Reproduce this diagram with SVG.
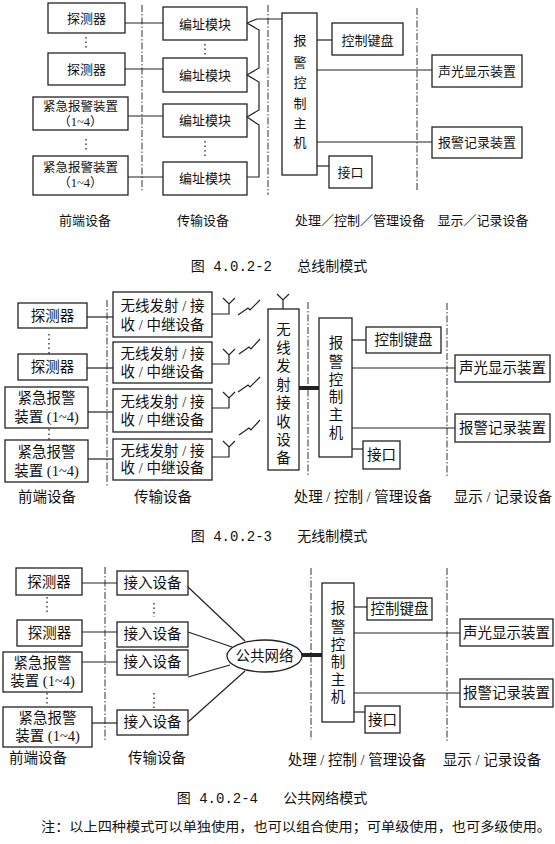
<svg xmlns="http://www.w3.org/2000/svg" width="555" height="844" viewBox="0 0 555 844">
<style>
.b{fill:#fff;stroke:#222;stroke-width:1.3}
.l{fill:none;stroke:#222;stroke-width:1.2}
.th{fill:none;stroke:#222;stroke-width:4}
.dd{fill:none;stroke:#333;stroke-width:1;stroke-dasharray:7,2,1.5,2}
.dots{fill:none;stroke:#222;stroke-width:1.3;stroke-dasharray:1.5,3}
text{font-family:"Liberation Serif","Noto Sans CJK SC",serif;fill:#111;text-anchor:middle;dominant-baseline:central}
.t1{font-size:13px}
.t1s{font-size:12.5px}
.t2{font-size:14.5px}
.lb1{font-size:13px}
.lb2{font-size:14.5px}
.cap{font-size:14px;font-family:"Liberation Mono","Noto Sans CJK SC",monospace}
.note{font-size:13px}
</style>
<rect width="555" height="844" fill="#fff"/>

<!-- ========== Figure 4.0.2-2 ========== -->
<g id="f1-lanes">
<line class="dd" x1="142" y1="5" x2="142" y2="192"/>
<line class="dd" x1="268" y1="5" x2="268" y2="195"/>
<line class="dd" x1="417" y1="8" x2="417" y2="192"/>
<line class="dots" x1="86" y1="37" x2="86" y2="50"/>
<line class="dots" x1="205" y1="44" x2="205" y2="55"/>
<line class="dots" x1="86" y1="139" x2="86" y2="152"/>
<line class="dots" x1="205" y1="141" x2="205" y2="156"/>
</g>
<g id="f1-connectors">
<line class="l" x1="125" y1="23" x2="163" y2="23"/>
<line class="l" x1="125" y1="69" x2="163" y2="69"/>
<line class="l" x1="128" y1="116" x2="163" y2="116"/>
<line class="l" x1="128" y1="177" x2="163" y2="177"/>
<polyline class="l" points="282,19 257,19 247,23 259,30 259,68 247,75 259,82 259,110 247,117 259,125 259,177 247,177"/>
<line class="l" x1="317" y1="40" x2="332" y2="40"/>
<line class="l" x1="317" y1="70" x2="432" y2="70"/>
<line class="l" x1="317" y1="142" x2="432" y2="142"/>
<line class="l" x1="317" y1="166" x2="329" y2="166"/>
</g>
<g id="f1-det1"><rect class="b" x="48" y="3" width="77" height="30"/><text class="t1" x="86.5" y="18">探测器</text></g>
<g id="f1-det2"><rect class="b" x="48" y="53" width="77" height="32"/><text class="t1" x="86.5" y="69">探测器</text></g>
<g id="f1-em1"><rect class="b" x="33" y="97" width="95" height="33"/><text class="t1s" x="80.5" y="106.5">紧急报警装置</text><text class="t1s" x="80.5" y="121.5">（1~4）</text></g>
<g id="f1-em2"><rect class="b" x="33" y="156" width="95" height="39"/><text class="t1s" x="80.5" y="168">紧急报警装置</text><text class="t1s" x="80.5" y="183">（1~4）</text></g>
<g id="f1-addr1"><rect class="b" x="163" y="7" width="84" height="33"/><text class="t1" x="205" y="24">编址模块</text></g>
<g id="f1-addr2"><rect class="b" x="163" y="58" width="84" height="34"/><text class="t1" x="205" y="75">编址模块</text></g>
<g id="f1-addr3"><rect class="b" x="163" y="104" width="84" height="33"/><text class="t1" x="205" y="120">编址模块</text></g>
<g id="f1-addr4"><rect class="b" x="163" y="162" width="84" height="33"/><text class="t1" x="205" y="178">编址模块</text></g>
<g id="f1-host"><rect class="b" x="282" y="13" width="35" height="162"/>
<text class="t1" x="300" y="40">报</text><text class="t1" x="300" y="62">警</text><text class="t1" x="300" y="82">控</text><text class="t1" x="300" y="103">制</text><text class="t1" x="300" y="123">主</text><text class="t1" x="300" y="142">机</text></g>
<g id="f1-kbd"><rect class="b" x="332" y="23" width="71" height="32"/><text class="t1" x="367.5" y="40">控制键盘</text></g>
<g id="f1-disp"><rect class="b" x="432" y="55" width="90" height="32"/><text class="t1" x="477" y="71">声光显示装置</text></g>
<g id="f1-rec"><rect class="b" x="432" y="127" width="90" height="31"/><text class="t1" x="477" y="142">报警记录装置</text></g>
<g id="f1-if"><rect class="b" x="329" y="156" width="43" height="32"/><text class="t1" x="350.5" y="172">接口</text></g>
<g id="f1-labels">
<text class="lb1" x="85" y="220">前端设备</text>
<text class="lb1" x="203" y="220">传输设备</text>
<text class="lb1" x="360" y="220">处理／控制／管理设备</text>
<text class="lb1" x="483" y="220">显示／记录设备</text>
<text class="cap" x="279" y="267" xml:space="preserve">图 4.0.2-2   总线制模式</text>
</g>

<!-- ========== Figure 4.0.2-3 ========== -->
<g id="f2-lanes">
<line class="dd" x1="107" y1="300" x2="107" y2="487"/>
<line class="dd" x1="308" y1="302" x2="308" y2="477"/>
<line class="dd" x1="447" y1="303" x2="447" y2="478"/>
<line class="dots" x1="49" y1="334" x2="49" y2="355"/>
<line class="dots" x1="49" y1="429" x2="49" y2="441"/>
</g>
<g id="f2-connectors">
<line class="l" x1="87" y1="317" x2="113" y2="317"/>
<line class="l" x1="87" y1="368" x2="113" y2="368"/>
<line class="l" x1="88" y1="412" x2="113" y2="412"/>
<line class="l" x1="88" y1="459" x2="113" y2="459"/>
<path class="l" d="M212,314 H229 V304 M223,298 L229,304 L235,298"/>
<path class="l" d="M212,364 H229 V355 M223,349 L229,355 L235,349"/>
<path class="l" d="M212,408 H229 V398 M223,392 L229,398 L235,392"/>
<path class="l" d="M212,457 H229 V447 M223,441 L229,447 L235,441"/>
<path class="l" d="M238,315 L248,308 L250,310 L260,300"/>
<path class="l" d="M239,354 L249,347 L251,349 L260,339"/>
<path class="l" d="M238,392 L248,385 L250,387 L260,377"/>
<path class="l" d="M239,435 L249,428 L251,430 L260,420"/>
<path class="l" d="M283,309 V300 M277,294 L283,300 L289,294"/>
<line class="th" x1="299" y1="388" x2="319" y2="388"/>
<line class="l" x1="352" y1="340" x2="366" y2="340"/>
<line class="l" x1="352" y1="368" x2="455" y2="368"/>
<line class="l" x1="352" y1="428" x2="455" y2="428"/>
<line class="l" x1="352" y1="449" x2="363" y2="449"/>
</g>
<g id="f2-det1"><rect class="b" x="18" y="303" width="69" height="25"/><text class="t2" x="52.5" y="316">探测器</text></g>
<g id="f2-det2"><rect class="b" x="18" y="354" width="69" height="26"/><text class="t2" x="52.5" y="367">探测器</text></g>
<g id="f2-em1"><rect class="b" x="5" y="387" width="83" height="41"/><text class="t2" x="46.5" y="398">紧急报警</text><text class="t2" x="46.5" y="417">装置 (1~4)</text></g>
<g id="f2-em2"><rect class="b" x="5" y="440" width="83" height="42"/><text class="t2" x="46.5" y="452">紧急报警</text><text class="t2" x="46.5" y="471">装置 (1~4)</text></g>
<g id="f2-tx1"><rect class="b" x="113" y="292" width="99" height="45"/><text class="t2" x="162.5" y="306">无线发射 / 接</text><text class="t2" x="162.5" y="325">收 / 中继设备</text></g>
<g id="f2-tx2"><rect class="b" x="113" y="342" width="99" height="41"/><text class="t2" x="162.5" y="354">无线发射 / 接</text><text class="t2" x="162.5" y="372">收 / 中继设备</text></g>
<g id="f2-tx3"><rect class="b" x="113" y="389" width="99" height="43"/><text class="t2" x="162.5" y="402">无线发射 / 接</text><text class="t2" x="162.5" y="420">收 / 中继设备</text></g>
<g id="f2-tx4"><rect class="b" x="113" y="439" width="99" height="41"/><text class="t2" x="162.5" y="451">无线发射 / 接</text><text class="t2" x="162.5" y="468">收 / 中继设备</text></g>
<g id="f2-rx"><rect class="b" x="268" y="309" width="31" height="161"/>
<text class="t2" x="283.5" y="330">无</text><text class="t2" x="283.5" y="348">线</text><text class="t2" x="283.5" y="366">发</text><text class="t2" x="283.5" y="385">射</text><text class="t2" x="283.5" y="403">接</text><text class="t2" x="283.5" y="422">收</text><text class="t2" x="283.5" y="440">设</text><text class="t2" x="283.5" y="458">备</text></g>
<g id="f2-host"><rect class="b" x="319" y="318" width="33" height="139"/>
<text class="t2" x="336" y="343">报</text><text class="t2" x="336" y="362">警</text><text class="t2" x="336" y="380">控</text><text class="t2" x="336" y="397">制</text><text class="t2" x="336" y="415">主</text><text class="t2" x="336" y="433">机</text></g>
<g id="f2-kbd"><rect class="b" x="366" y="327" width="75" height="26"/><text class="t2" x="403.5" y="340">控制键盘</text></g>
<g id="f2-disp"><rect class="b" x="455" y="355" width="95" height="27"/><text class="t2" x="502.5" y="368">声光显示装置</text></g>
<g id="f2-rec"><rect class="b" x="455" y="414" width="95" height="28"/><text class="t2" x="502.5" y="428">报警记录装置</text></g>
<g id="f2-if"><rect class="b" x="363" y="441" width="37" height="28"/><text class="t2" x="381.5" y="455">接口</text></g>
<g id="f2-labels">
<text class="lb2" x="47" y="497">前端设备</text>
<text class="lb2" x="163" y="497">传输设备</text>
<text class="lb2" x="363" y="497">处理 / 控制 / 管理设备</text>
<text class="lb2" x="503" y="497">显示 / 记录设备</text>
<text class="cap" x="279" y="537" xml:space="preserve">图 4.0.2-3   无线制模式</text>
</g>

<!-- ========== Figure 4.0.2-4 ========== -->
<g id="f3-lanes">
<line class="dd" x1="105" y1="567" x2="105" y2="740"/>
<line class="dd" x1="311" y1="568" x2="311" y2="740"/>
<line class="dd" x1="447" y1="568" x2="447" y2="742"/>
<line class="dots" x1="47" y1="597" x2="47" y2="613"/>
<line class="dots" x1="47" y1="693" x2="47" y2="706"/>
<line class="dots" x1="154" y1="603" x2="154" y2="617"/>
<line class="dots" x1="154" y1="693" x2="154" y2="708"/>
</g>
<g id="f3-connectors">
<line class="l" x1="82" y1="583" x2="117" y2="583"/>
<line class="l" x1="82" y1="632" x2="117" y2="632"/>
<line class="l" x1="82" y1="662" x2="117" y2="662"/>
<line class="l" x1="92" y1="723" x2="117" y2="723"/>
<line class="l" x1="188" y1="587" x2="245" y2="641"/>
<line class="l" x1="188" y1="632" x2="232" y2="647"/>
<line class="l" x1="188" y1="677" x2="230" y2="665"/>
<line class="l" x1="188" y1="722" x2="245" y2="671"/>
<line class="th" x1="301" y1="655" x2="322" y2="655"/>
<line class="l" x1="354" y1="607" x2="367" y2="607"/>
<line class="l" x1="354" y1="633" x2="460" y2="633"/>
<line class="l" x1="354" y1="693" x2="460" y2="693"/>
<line class="l" x1="354" y1="712" x2="365" y2="712"/>
</g>
<g id="f3-det1"><rect class="b" x="16" y="568" width="66" height="27"/><text class="t2" x="49" y="582">探测器</text></g>
<g id="f3-det2"><rect class="b" x="17" y="620" width="65" height="26"/><text class="t2" x="49.5" y="633">探测器</text></g>
<g id="f3-em1"><rect class="b" x="3" y="652" width="79" height="40"/><text class="t2" x="42.5" y="663">紧急报警</text><text class="t2" x="42.5" y="681">装置 (1~4)</text></g>
<g id="f3-em2"><rect class="b" x="3" y="707" width="89" height="40"/><text class="t2" x="47.5" y="718">紧急报警</text><text class="t2" x="47.5" y="736">装置 (1~4)</text></g>
<g id="f3-acc1"><rect class="b" x="117" y="571" width="71" height="24"/><text class="t2" x="152.5" y="583">接入设备</text></g>
<g id="f3-acc2"><rect class="b" x="117" y="622" width="71" height="25"/><text class="t2" x="152.5" y="634">接入设备</text></g>
<g id="f3-acc3"><rect class="b" x="117" y="650" width="71" height="25"/><text class="t2" x="152.5" y="662">接入设备</text></g>
<g id="f3-acc4"><rect class="b" x="117" y="710" width="71" height="25"/><text class="t2" x="152.5" y="722">接入设备</text></g>
<g id="f3-net"><ellipse class="b" cx="264.5" cy="656" rx="37.5" ry="16"/><text class="t2" x="264.5" y="656">公共网络</text></g>
<g id="f3-host"><rect class="b" x="322" y="583" width="32" height="139"/>
<text class="t2" x="338" y="608">报</text><text class="t2" x="338" y="627">警</text><text class="t2" x="338" y="645">控</text><text class="t2" x="338" y="662">制</text><text class="t2" x="338" y="680">主</text><text class="t2" x="338" y="697">机</text></g>
<g id="f3-kbd"><rect class="b" x="367" y="598" width="65" height="22"/><text class="t2" x="399.5" y="609">控制键盘</text></g>
<g id="f3-disp"><rect class="b" x="460" y="619" width="93" height="27"/><text class="t2" x="506.5" y="633">声光显示装置</text></g>
<g id="f3-rec"><rect class="b" x="460" y="679" width="93" height="28"/><text class="t2" x="506.5" y="693">报警记录装置</text></g>
<g id="f3-if"><rect class="b" x="365" y="706" width="35" height="27"/><text class="t2" x="382.5" y="720">接口</text></g>
<g id="f3-labels">
<text class="lb2" x="38" y="758">前端设备</text>
<text class="lb2" x="157" y="758">传输设备</text>
<text class="lb2" x="357" y="760">处理 / 控制 / 管理设备</text>
<text class="lb2" x="492" y="760">显示 / 记录设备</text>
<text class="cap" x="272" y="799" xml:space="preserve">图 4.0.2-4   公共网络模式</text>
<text class="note" x="296" y="826" textLength="510" lengthAdjust="spacingAndGlyphs">注：以上四种模式可以单独使用，也可以组合使用；可单级使用，也可多级使用。</text>
</g>
</svg>
